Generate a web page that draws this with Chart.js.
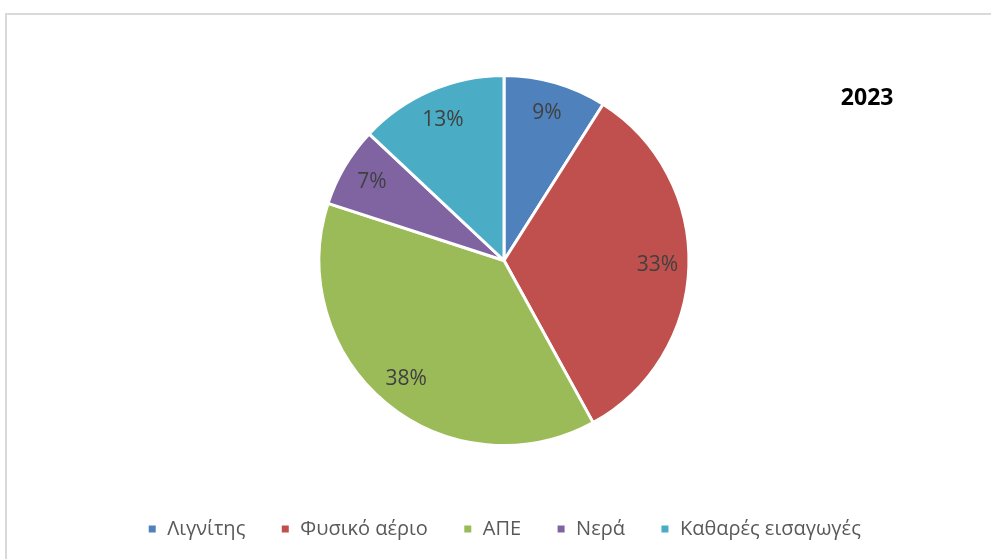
<!DOCTYPE html>
<html>
<head>
<meta charset="utf-8">
<script src="https://cdn.jsdelivr.net/npm/chart.js@4/dist/chart.umd.min.js"></script>
<style>
  html, body { margin: 0; padding: 0; background: #fff; overflow: hidden; }
  #frame { position: absolute; left: 5px; top: 13px; width: 1100px; height: 700px; border: 1px solid #d9d9d9; box-sizing: border-box; border-width: 2px 0 0 2px; }
  #wrap { position: absolute; left: 0; top: 0; width: 991px; height: 559px; }
</style>
</head>
<body>
<div id="frame"></div>
<div id="wrap"><canvas id="c" width="991" height="559"></canvas></div>
<script>
const categories = ['Λιγνίτης', 'Φυσικό αέριο', 'ΑΠΕ', 'Νερά', 'Καθαρές εισαγωγές'];
const shares = [9, 33, 38, 7, 13];
const sliceColors = ['#4F81BD', '#C0504D', '#9BBB59', '#8064A2', '#4BACC6'];
const chartTitle = '2023';

const labelPlugin = {
  id: 'sliceLabels',
  afterDatasetsDraw(chart) {
    const ctx = chart.ctx;
    const meta = chart.getDatasetMeta(0);
    const data = chart.data.datasets[0].data;
    ctx.save();
    ctx.font = '21px "Open Sans", sans-serif';
    ctx.fillStyle = '#404040';
    ctx.textAlign = 'center';
    ctx.textBaseline = 'middle';
    meta.data.forEach((arc, i) => {
      const p = arc.getProps(['x', 'y', 'startAngle', 'endAngle', 'outerRadius'], true);
      const mid = (p.startAngle + p.endAngle) / 2;
      const r = p.outerRadius * 0.83;
      ctx.fillText(data[i] + '%', p.x + Math.cos(mid) * r, p.y + Math.sin(mid) * r);
    });
    ctx.restore();
  }
};

const titlePlugin = {
  id: 'cornerTitle',
  afterDraw(chart) {
    const ctx = chart.ctx;
    ctx.save();
    ctx.font = 'bold 23px "Open Sans", sans-serif';
    ctx.fillStyle = '#000';
    ctx.textAlign = 'center';
    ctx.textBaseline = 'middle';
    ctx.fillText(chartTitle, chart.width * 0.875, 98);
    ctx.restore();
  }
};

new Chart(document.getElementById('c'), {
  type: 'pie',
  data: {
    labels: categories,
    datasets: [{
      data: shares,
      backgroundColor: sliceColors,
      borderColor: '#ffffff',
      borderWidth: 3,
      radius: 185
    }]
  },
  options: {
    responsive: false,
    animation: false,
    layout: { padding: { top: 37, left: 17, right: 0, bottom: 10 } },
    plugins: {
      tooltip: { enabled: false },
      legend: {
        position: 'bottom',
        labels: {
          boxWidth: 10,
          boxHeight: 10,
          padding: 35,
          color: '#595959',
          font: { family: '"Open Sans", sans-serif', size: 20 }
        }
      }
    }
  },
  plugins: [labelPlugin, titlePlugin]
});
</script>
</body>
</html>
